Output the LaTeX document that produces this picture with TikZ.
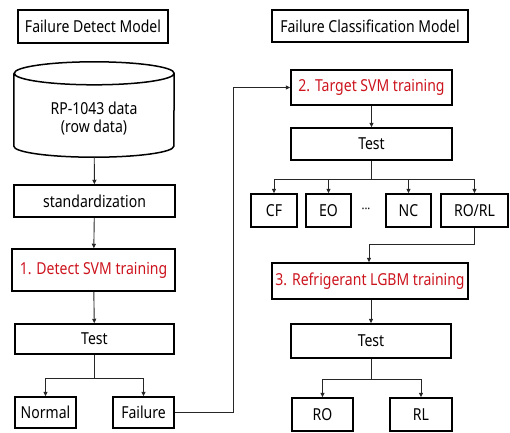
\documentclass[tikz,border=0pt]{standalone}
\usepackage{fontspec}
\setmainfont[FakeStretch=0.85]{Noto Sans}
\definecolor{SVMRed}{RGB}{204,20,30}
\usepackage{tikz}
\usetikzlibrary{arrows.meta, positioning, calc}

\tikzset{
  box/.style={draw=black, line width=1.5pt, inner sep=0pt, font=\fontsize{16.5}{19}\selectfont},
  redbox/.style={box, text=SVMRed},
  conn/.style={draw=black!85, line width=0.9pt},
  arr/.style={conn, -{Triangle[length=4.5pt,width=4pt]}},
}

\begin{document}
\begin{tikzpicture}[x=1pt, y=-1pt]
\useasboundingbox (0,0) rectangle (510,432);

% titles
\node[box, minimum width=150pt, minimum height=33pt] (detecttitle) at (93,26.5) {Failure Detect Model};
\node[box, minimum width=196pt, minimum height=32pt] (classtitle) at (370,26) {Failure Classification Model};

% left column: failure detect model
\node[minimum width=160pt, minimum height=95pt, inner sep=0pt] (data) at (94,109.5) {};
\draw[line width=1.5pt] ([yshift=-11.5pt]data.north west) -- ([yshift=11pt]data.south west)
  arc[start angle=180, end angle=360, x radius=80pt, y radius=11pt]
  -- ([yshift=-11.5pt]data.north east)
  arc[start angle=0, end angle=360, x radius=80pt, y radius=11.5pt];
\node[align=center, font=\fontsize{16.5}{18}\selectfont] (datatext) at ([yshift=-9.5pt]data.center) {RP-1043 data\\(row data)};

\node[box, minimum width=161pt, minimum height=32pt] (std) at (94.5,201) {standardization};
\node[redbox, minimum width=163pt, minimum height=42pt] (detect) at (93.5,270) {1. Detect SVM training};
\node[box, minimum width=159pt, minimum height=30pt] (test1) at (94.5,339) {Test};
\node[box, minimum width=61pt, minimum height=31pt] (normal) at (45.5,412.5) {Normal};
\node[box, minimum width=61pt, minimum height=31pt] (failure) at (143.5,412.5) {Failure};

% right column: failure classification model
\node[redbox, minimum width=161pt, minimum height=35pt] (target) at (371.5,87.5) {2. Target SVM training};
\node[box, minimum width=161pt, minimum height=32pt] (test2) at (371.5,144) {Test};
\node[box, minimum width=46pt, minimum height=33pt] (cf) at (274,210.5) {CF};
\node[box, minimum width=45pt, minimum height=33pt] (eo) at (328.5,210.5) {EO};
\node[font=\fontsize{13}{14}\selectfont, inner sep=0pt] (dots) at (366,211) {\textperiodcentered\textperiodcentered\textperiodcentered};
\node[box, minimum width=45pt, minimum height=33pt] (nc) at (408.5,210.5) {NC};
\node[box, minimum width=67pt, minimum height=33pt] (rorl) at (474.5,210.5) {RO/RL};
\node[redbox, minimum width=196pt, minimum height=36pt] (lgbm) at (370,281) {3. Refrigerant LGBM training};
\node[box, minimum width=160pt, minimum height=34pt] (test3) at (371,341) {Test};
\node[box, minimum width=61pt, minimum height=33pt] (ro) at (322.5,414.5) {RO};
\node[box, minimum width=62pt, minimum height=33pt] (rl) at (421,414.5) {RL};

% connectors, left
\draw[arr] (data) -- (std);
\draw[arr] (std) -- (detect);
\draw[arr] (detect) -- (test1);
\draw[conn] (test1.south) -- ++(0,24) coordinate (split1);
\draw[arr] (split1) -| (normal.north);
\draw[arr] (split1) -| (failure.north);
\draw[arr] (failure.east) -- ++(59,0) coordinate (turn1) |- (target.west);

% connectors, right
\draw[arr] (target) -- (test2);
\draw[conn] (test2.south) -- ++(0,19) coordinate (split2);
\draw[arr] (split2) -| (cf.north);
\draw[arr] (split2) -| (eo.north);
\draw[arr] (split2) -| (nc.north);
\draw[arr] (split2) -| (rorl.north);
\draw[conn] (rorl.south) -- ++(0,17) coordinate (turn2);
\draw[arr] (turn2) -| ([xshift=-1pt]lgbm.north);
\draw[arr] (lgbm.south -| test3.north) -- (test3.north);
\draw[conn] (test3.south) -- ++(0,21) coordinate (split3);
\draw[arr] (split3) -| (ro.north);
\draw[arr] (split3) -| (rl.north);
\end{tikzpicture}
\end{document}
